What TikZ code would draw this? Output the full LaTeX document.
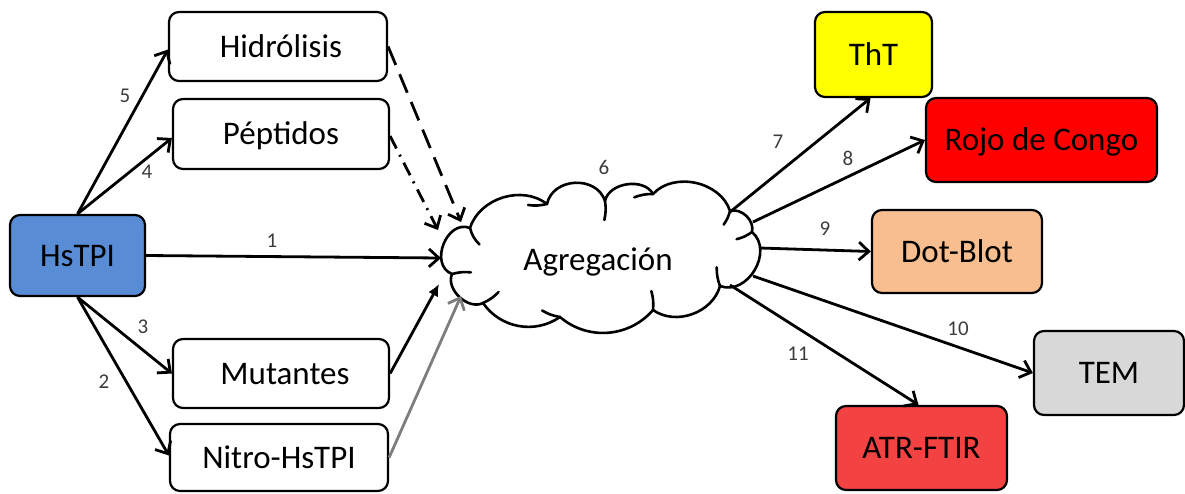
\documentclass[tikz,border=0pt]{standalone}
\usepackage{fontspec}
\setmainfont{Carlito}
\usetikzlibrary{arrows.meta,calc}
\definecolor{hsblue}{RGB}{88,141,214}
\definecolor{thtyellow}{RGB}{255,255,0}
\definecolor{rojored}{RGB}{255,0,0}
\definecolor{dotpeach}{RGB}{249,190,143}
\definecolor{temgray}{RGB}{216,216,216}
\definecolor{atrred}{RGB}{243,66,66}
\definecolor{numgray}{RGB}{60,60,60}
\definecolor{nitgray}{RGB}{125,125,125}
\begin{document}
\begin{tikzpicture}[x=1pt,y=1pt,
  box/.style={draw=black, line width=2.2pt, rounded corners=10pt, inner sep=0pt,
    font=\fontsize{33}{40}\selectfont, text height=21pt, text depth=0pt},
  conn/.style={line width=2.8pt, -{Straight Barb[length=10pt,width=18pt]}},
  num/.style={font=\fontsize{21}{25}\selectfont, text=numgray, inner sep=0pt},
  cl/.style={line width=2.6pt, line join=round, line cap=round}]
\useasboundingbox (0,0) rectangle (1185,-493);

% boxes
\node[box, fill=hsblue, minimum width=135pt, minimum height=81pt] (hs) at (77.5,-255.5) {HsTPI};
\node[box, fill=white, minimum width=218pt, minimum height=69pt] (hid) at (278,-46.5) {\hspace*{6pt}Hidrólisis};
\node[box, fill=white, minimum width=216pt, minimum height=70pt] (pep) at (281,-134) {Péptidos};
\node[box, fill=white, minimum width=216pt, minimum height=69pt] (mut) at (281,-373.5) {\hspace*{8pt}Mutantes};
\node[box, fill=white, minimum width=218pt, minimum height=67pt] (nit) at (279,-457.5) {Nitro-HsTPI};
\node[box, fill=thtyellow, minimum width=117pt, minimum height=85pt] (tht) at (873.5,-54.5) {ThT};
\node[box, fill=rojored, minimum width=231pt, minimum height=84pt] (rojo) at (1041.5,-140) {Rojo de Congo};
\node[box, fill=dotpeach, minimum width=170pt, minimum height=83pt] (dot) at (957,-251.5) {Dot-Blot};
\node[box, fill=temgray, minimum width=150pt, minimum height=84pt] (tem) at (1109,-373) {TEM};
\node[box, fill=atrred, minimum width=171pt, minimum height=84pt] (atr) at (921.5,-448) {ATR-FTIR};

% cloud
\coordinate (P1) at (470,-228);
\coordinate (P2) at (547,-204);
\coordinate (P3) at (605,-201);
\coordinate (P4) at (653,-194);
\coordinate (P5) at (730,-211);
\coordinate (P6) at (752,-232);
\coordinate (P7) at (720,-286);
\coordinate (P8) at (653,-310);
\coordinate (P9) at (560,-317);
\coordinate (P10) at (483,-303);
\coordinate (P11) at (452,-274);
\draw[cl, fill=white] (P1) to[bend left=55] (P2) to[bend left=75, looseness=1.2] (P3)
  to[bend left=70] (P4) to[bend left=60] (P5) to[bend left=60] (P6)
  to[bend left=80, looseness=1.2] (P7) to[bend left=55] (P8) to[bend left=45] (P9)
  to[bend left=45] (P10) to[bend left=70] (P11) to[bend left=90, looseness=1.3] cycle;
% inner arcs at the lobe junctions
\draw[cl] (P1) to[bend right=15] ($(P1)+(300:19pt)$);
\draw[cl] (P2) to[bend left=10] ($(P2)+(183:19pt)$);
\draw[cl] (P3) to[bend left=10] ($(P3)+(268:19pt)$);
\draw[cl] (P4) to[bend right=10] ($(P4)+(190:19pt)$);
\draw[cl] (P5) to[bend left=10] ($(P5)+(245:15pt)$);
\draw[cl] (P6) to[bend left=10] ($(P6)+(205:17pt)$);
\draw[cl] (P7) to[bend left=10] ($(P7)+(100:19pt)$);
\draw[cl] (P8) to[bend right=10] ($(P8)+(95:19pt)$);
\draw[cl] (P9) to[bend left=10] ($(P9)+(160:19pt)$);
\draw[cl] (P10) to[bend right=10] ($(P10)+(35:19pt)$);
\draw[cl] (P11) to[bend left=10] ($(P11)+(5:19pt)$);
\node[font=\fontsize{33}{40}\selectfont, anchor=base, inner sep=0pt] (agg) at (598,-270) {Agregación};

% cloud contact points
\coordinate (a1) at (441,-258);
\coordinate (a5) at (461,-222);
\coordinate (a4) at (438,-230);
\coordinate (a3) at (439,-284);
\coordinate (a2) at (461,-296);
\coordinate (b7) at (730,-212);
\coordinate (b8) at (753,-222);
\coordinate (b9) at (760,-248);
\coordinate (b10) at (753,-276);
\coordinate (b11) at (730,-285);

% left connectors
\draw[conn] (hs.east) -- (a1);
\draw[conn] (hs.north) -- ([yshift=-3pt]hid.west);
\draw[conn] (hs.north) -- ([yshift=-4pt]pep.west);
\draw[conn] (hs.south) -- (mut.west);
\draw[conn] (hs.south) -- ([yshift=2pt]nit.west);
\draw[conn, dash pattern=on 20pt off 10pt] (hid.east) -- (a5);
\draw[conn, dash pattern=on 14pt off 7pt on 2pt off 7pt] ([yshift=-2pt]pep.east) -- (a4);
\draw[line width=2.8pt, -{Latex[length=12pt,width=11pt]}] (mut.east) -- (a3);
\draw[conn, draw=nitgray] (nit.east) -- (a2);

% right connectors
\draw[conn] (b7) -- ([xshift=-3pt]tht.south);
\draw[conn] (b8) -- (rojo.west);
\draw[conn] (b9) -- (dot.west);
\draw[conn] (b10) -- (tem.west);
\draw[conn] (b11) -- ([xshift=-3pt]atr.north);

% numbers
\node[num] (n1) at (272,-241) {1};
\node[num] (n2) at (104,-382) {2};
\node[num] (n3) at (143,-327) {3};
\node[num] (n4) at (147,-172) {4};
\node[num] (n5) at (125,-96) {5};
\node[num] (n6) at (604,-167) {6};
\node[num] (n7) at (778,-142) {7};
\node[num] (n8) at (848,-158) {8};
\node[num] (n9) at (825,-229) {9};
\node[num] (n10) at (958,-329) {10};
\node[num] (n11) at (798,-354) {11};
\end{tikzpicture}
\end{document}
